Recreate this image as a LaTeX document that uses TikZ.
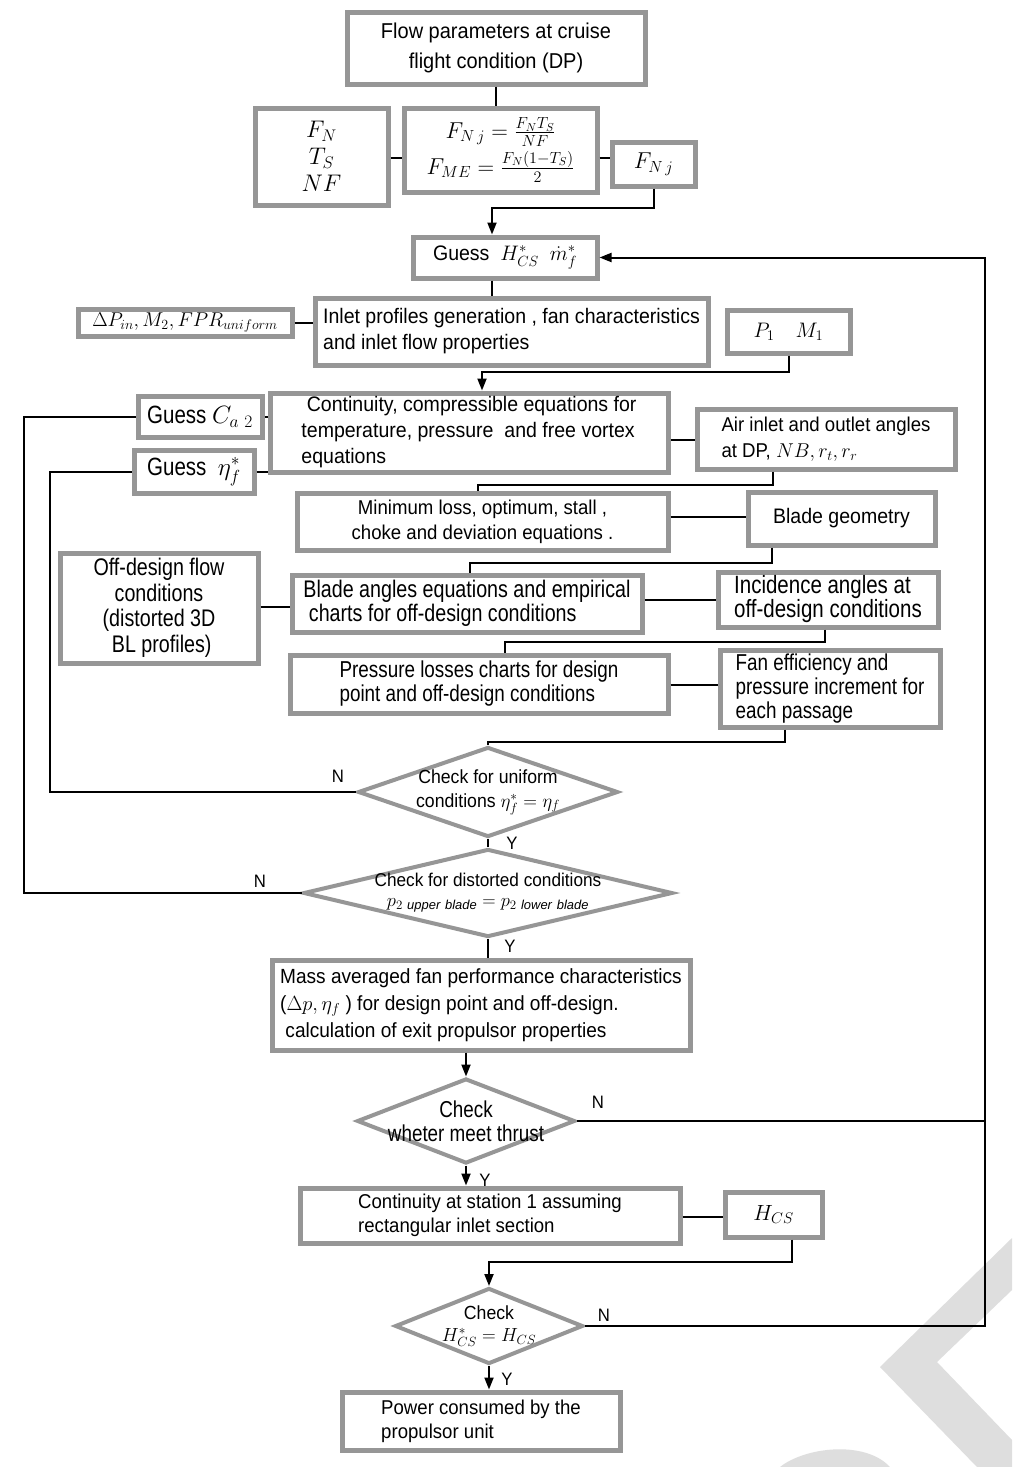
\RequirePackage{fix-cm}
\documentclass[tikz,border=0pt]{standalone}
\usepackage{amsmath}
\usepackage{fontspec}
\setmainfont{Liberation Sans}
\newfontfamily\nf[FakeStretch=0.93]{Liberation Sans}
\newfontfamily\cf[FakeStretch=0.82]{Liberation Sans}
\usetikzlibrary{arrows.meta,shapes.geometric}
\definecolor{bx}{RGB}{150,150,150}
\definecolor{wm}{RGB}{222,222,222}
\newcommand{\fsz}[2]{\fontsize{#1}{#2}\selectfont}
\begin{document}
\begin{tikzpicture}[x=1pt,y=-1pt,
  box/.style={draw=bx, line width=5pt, fill=white, rectangle, inner sep=0pt, align=center},
  dia/.style={draw=bx, line width=4pt, fill=white, diamond, inner sep=0pt},
  ln/.style={line width=2pt, black},
  ar/.style={ln, -{Triangle[length=12pt,width=9pt]}},
  lab/.style={font=\nf\fsz{18}{20}, inner sep=0pt}]
\fill[white] (0,0) rectangle (1012,1467);
\useasboundingbox (0,0) rectangle (1012,1467);
% watermark
\fill[wm] (1012,1238) -- (880,1367) -- (977,1467) -- (1012,1467) -- (1012,1440) -- (937,1362) -- (1012,1290) -- cycle;
\fill[wm] (780,1467) .. controls (805,1447) and (865,1440) .. (890,1467) -- cycle;

% nodes
\node[box, minimum width=298pt, minimum height=72pt, font=\nf\fsz{21.5}{30}] (top) at (496,48) {Flow parameters at cruise\\flight condition (DP)};
\node[box, minimum width=133pt, minimum height=97pt, font=\fsz{24}{27}] (fnts) at (321.5,156.5) {$F_N$\\$T_S$\\$NF$};
\node[box, minimum width=193pt, minimum height=84pt, font=\fsz{23}{36}] (form) at (500.5,150) {$F_{N\,j}=\frac{F_NT_S}{NF}$\\$F_{ME}=\frac{F_N(1-T_S)}{2}$};
\node[box, minimum width=83pt, minimum height=44pt, font=\fsz{23}{26}] (fnj) at (653.5,164) {$F_{N\,j}$};
\node[box, minimum width=184pt, minimum height=41pt, font=\nf\fsz{21}{26}] (guess) at (505,257.5) {Guess\ \ $H^{*}_{CS}$\ \ $\dot{m}_{f}^{*}$};
\node[box, minimum width=393pt, minimum height=67pt, font=\nf\fsz{21}{26}, align=left] (inlet) at (511.5,331.5) {Inlet profiles generation , fan characteristics\\and inlet flow properties};
\node[box, minimum width=214pt, minimum height=27pt, font=\fsz{20}{22}] (dp) at (185,323) {$\Delta P_{in}, M_2, FPR_{uniform}$};
\node[box, minimum width=123pt, minimum height=43pt, font=\fsz{21}{24}] (p1) at (788.5,331.5) {$P_1\quad M_1$};
\node[box, minimum width=398pt, minimum height=79pt, font=\nf\fsz{21}{26}, align=left] (cont) at (469,432.5) {\ Continuity, compressible equations for\\temperature, pressure\ \ and free vortex\\equations};
\node[box, minimum width=124pt, minimum height=41pt, font=\cf\fsz{25}{28}] (gc) at (200,416.5) {Guess $C_{a\ 2}$};
\node[box, minimum width=120pt, minimum height=43pt, font=\cf\fsz{25}{28}] (ge) at (194,471.5) {Guess\ \ $\eta^{*}_{f}$};
\node[box, minimum width=258pt, minimum height=60pt, font=\nf\fsz{20}{26}, align=left] (air) at (826,439) {Air inlet and outlet angles\\at DP, $NB, r_t, r_r$};
\node[box, minimum width=371pt, minimum height=57pt, font=\nf\fsz{20}{25}] (minloss) at (482.5,521.5) {Minimum loss, optimum, stall ,\\choke and deviation equations .};
\node[box, minimum width=187pt, minimum height=53pt, font=\nf\fsz{21}{25}] (bgeom) at (841.5,518.5) {Blade geometry};
\node[box, minimum width=198pt, minimum height=110pt, font=\cf\fsz{24}{25.5}] (off) at (159,608) {Off-design flow\\conditions\\(distorted 3D\\\ BL profiles)};
\node[box, minimum width=350pt, minimum height=57pt, font=\cf\fsz{24}{24}, align=left] (bangles) at (467,603.5) {Blade angles equations and empirical\\\ charts for off-design conditions};
\node[box, minimum width=220pt, minimum height=55pt, font=\cf\fsz{25}{24}, align=left] (incid) at (828,599.5) {Incidence angles at\\off-design conditions};
\node[box, minimum width=378pt, minimum height=58pt, font=\cf\fsz{23}{24}, align=left] (press) at (479,684) {Pressure losses charts for design\\point and off-design conditions};
\node[box, minimum width=220pt, minimum height=77pt, font=\cf\fsz{23}{24}, align=left] (fan) at (830,688.5) {Fan efficiency and\\pressure increment for\\each passage};
\node[dia, minimum width=260pt, minimum height=90pt,
  label={[font=\nf\fsz{19}{24}, align=center]center:Check for uniform\\conditions $\eta^{*}_{f}=\eta_f$}] (d1) at (488,792) {};
\node[dia, minimum width=369pt, minimum height=88pt,
  label={[font=\nf\fsz{18.5}{20}, align=center]center:Check for distorted conditions\\$p_{2\ \mathit{upper\ blade}}=p_{2\ \mathit{lower\ blade}}$}] (d2) at (488,893) {};
\node[box, minimum width=418pt, minimum height=90pt, font=\nf\fsz{20.5}{27}, align=left] (mass) at (481,1005) {Mass averaged fan performance characteristics\\($\Delta p, \eta_f$ ) for design point and off-design.\\\ calculation of exit propulsor properties};
\node[dia, minimum width=218pt, minimum height=85pt,
  label={[font=\cf\fsz{23}{24}, align=center]center:Check\\wheter meet thrust}] (d3) at (466,1121) {};
\node[box, minimum width=380pt, minimum height=55pt, font=\nf\fsz{20}{24}, align=left] (cont1) at (490,1215.5) {Continuity at station 1 assuming\\rectangular inlet section};
\node[box, minimum width=97pt, minimum height=45pt, font=\fsz{22}{24}] (hcs) at (773.5,1214.5) {$H_{CS}$};
\node[dia, minimum width=188pt, minimum height=76pt,
  label={[font=\nf\fsz{19}{22}, align=center]center:Check\\$H^{*}_{CS}=H_{CS}$}] (d4) at (489,1326) {};
\node[box, minimum width=278pt, minimum height=58pt, font=\nf\fsz{20}{24}, align=left] (power) at (481,1421) {Power consumed by the\\propulsor unit};

% connectors
\draw[ln] (top.south) -- (top.south |- form.north);
\draw[ln] (fnts.east |- 0,158) -- (form.west |- 0,158);
\draw[ln] (form.east |- 0,158) -- (fnj.west |- 0,158);
\draw[ar] (fnj.south) -- (fnj.south |- 0,208) -| ([xshift=-13pt]guess.north);
\draw[ln] ([xshift=-13pt]guess.south) -- ([xshift=-13pt]guess.south |- inlet.north);
\draw[ln] (dp.east) -- (dp.east -| inlet.west);
\draw[ar] (p1.south) -- (p1.south |- 0,372) -| ([xshift=13pt]cont.north);
\draw[ln] (gc.east) -- (gc.east -| cont.west);
\draw[ln] (ge.east) -- (ge.east -| cont.west);
\draw[ln] (cont.east |- 0,440) -- (air.west |- 0,440);
\draw[ln] ([xshift=-53pt]air.south) -- ([xshift=-53pt]air.south |- 0,485) -| ([xshift=-4.5pt]minloss.north);
\draw[ln] (minloss.east |- 0,517) -- (bgeom.west |- 0,517);
\draw[ln] ([xshift=-69.5pt]bgeom.south) -- ([xshift=-69.5pt]bgeom.south |- 0,563) -| ([xshift=3pt]bangles.north);
\draw[ln] (off.east |- 0,607) -- (bangles.west |- 0,607);
\draw[ln] (bangles.east |- 0,600) -- (incid.west |- 0,600);
\draw[ln] ([xshift=-3pt]incid.south) -- ([xshift=-3pt]incid.south |- 0,642) -| ([xshift=26pt]press.north);
\draw[ln] (press.east |- 0,685) -- (fan.west |- 0,685);
\draw[ln] ([xshift=-45pt]fan.south) -- ([xshift=-45pt]fan.south |- 0,742) -| (d1.north);
\draw[ln] (d1.west) -- (d1.west -| 50,0) |- (ge.west);
\draw[ln] (d1.south) -- (d2.north);
\draw[ln] (d2.west) -- (d2.west -| 24,0) |- (gc.west);
\draw[ln] (d2.south) -- (d2.south |- mass.north);
\draw[ar] ([xshift=-15pt]mass.south) -- ([xshift=-15pt]mass.south |- d3.north);
\draw[ar] (d3.south) -- (d3.south |- cont1.north);
\draw[ln] (d3.east) -- (d3.east -| 985,0);
\draw[ar] (d4.east) -- (d4.east -| 985,0) |- (guess.east);
\draw[ln] (cont1.east |- 0,1217) -- (hcs.west |- 0,1217);
\draw[ar] ([xshift=18.5pt]hcs.south) -- ([xshift=18.5pt]hcs.south |- 0,1262) -| (d4.north);
\draw[ar] (d4.south) -- (d4.south |- power.north);

% labels
\node[lab] (n1) at (338,776) {N};
\node[lab] (y1) at (512,843) {Y};
\node[lab] (n2) at (260,881) {N};
\node[lab] (y2) at (510,946) {Y};
\node[lab] (n3) at (598,1102) {N};
\node[lab] (y3) at (485,1180) {Y};
\node[lab] (n4) at (604,1315) {N};
\node[lab] (y4) at (507,1379) {Y};
\end{tikzpicture}
\end{document}
